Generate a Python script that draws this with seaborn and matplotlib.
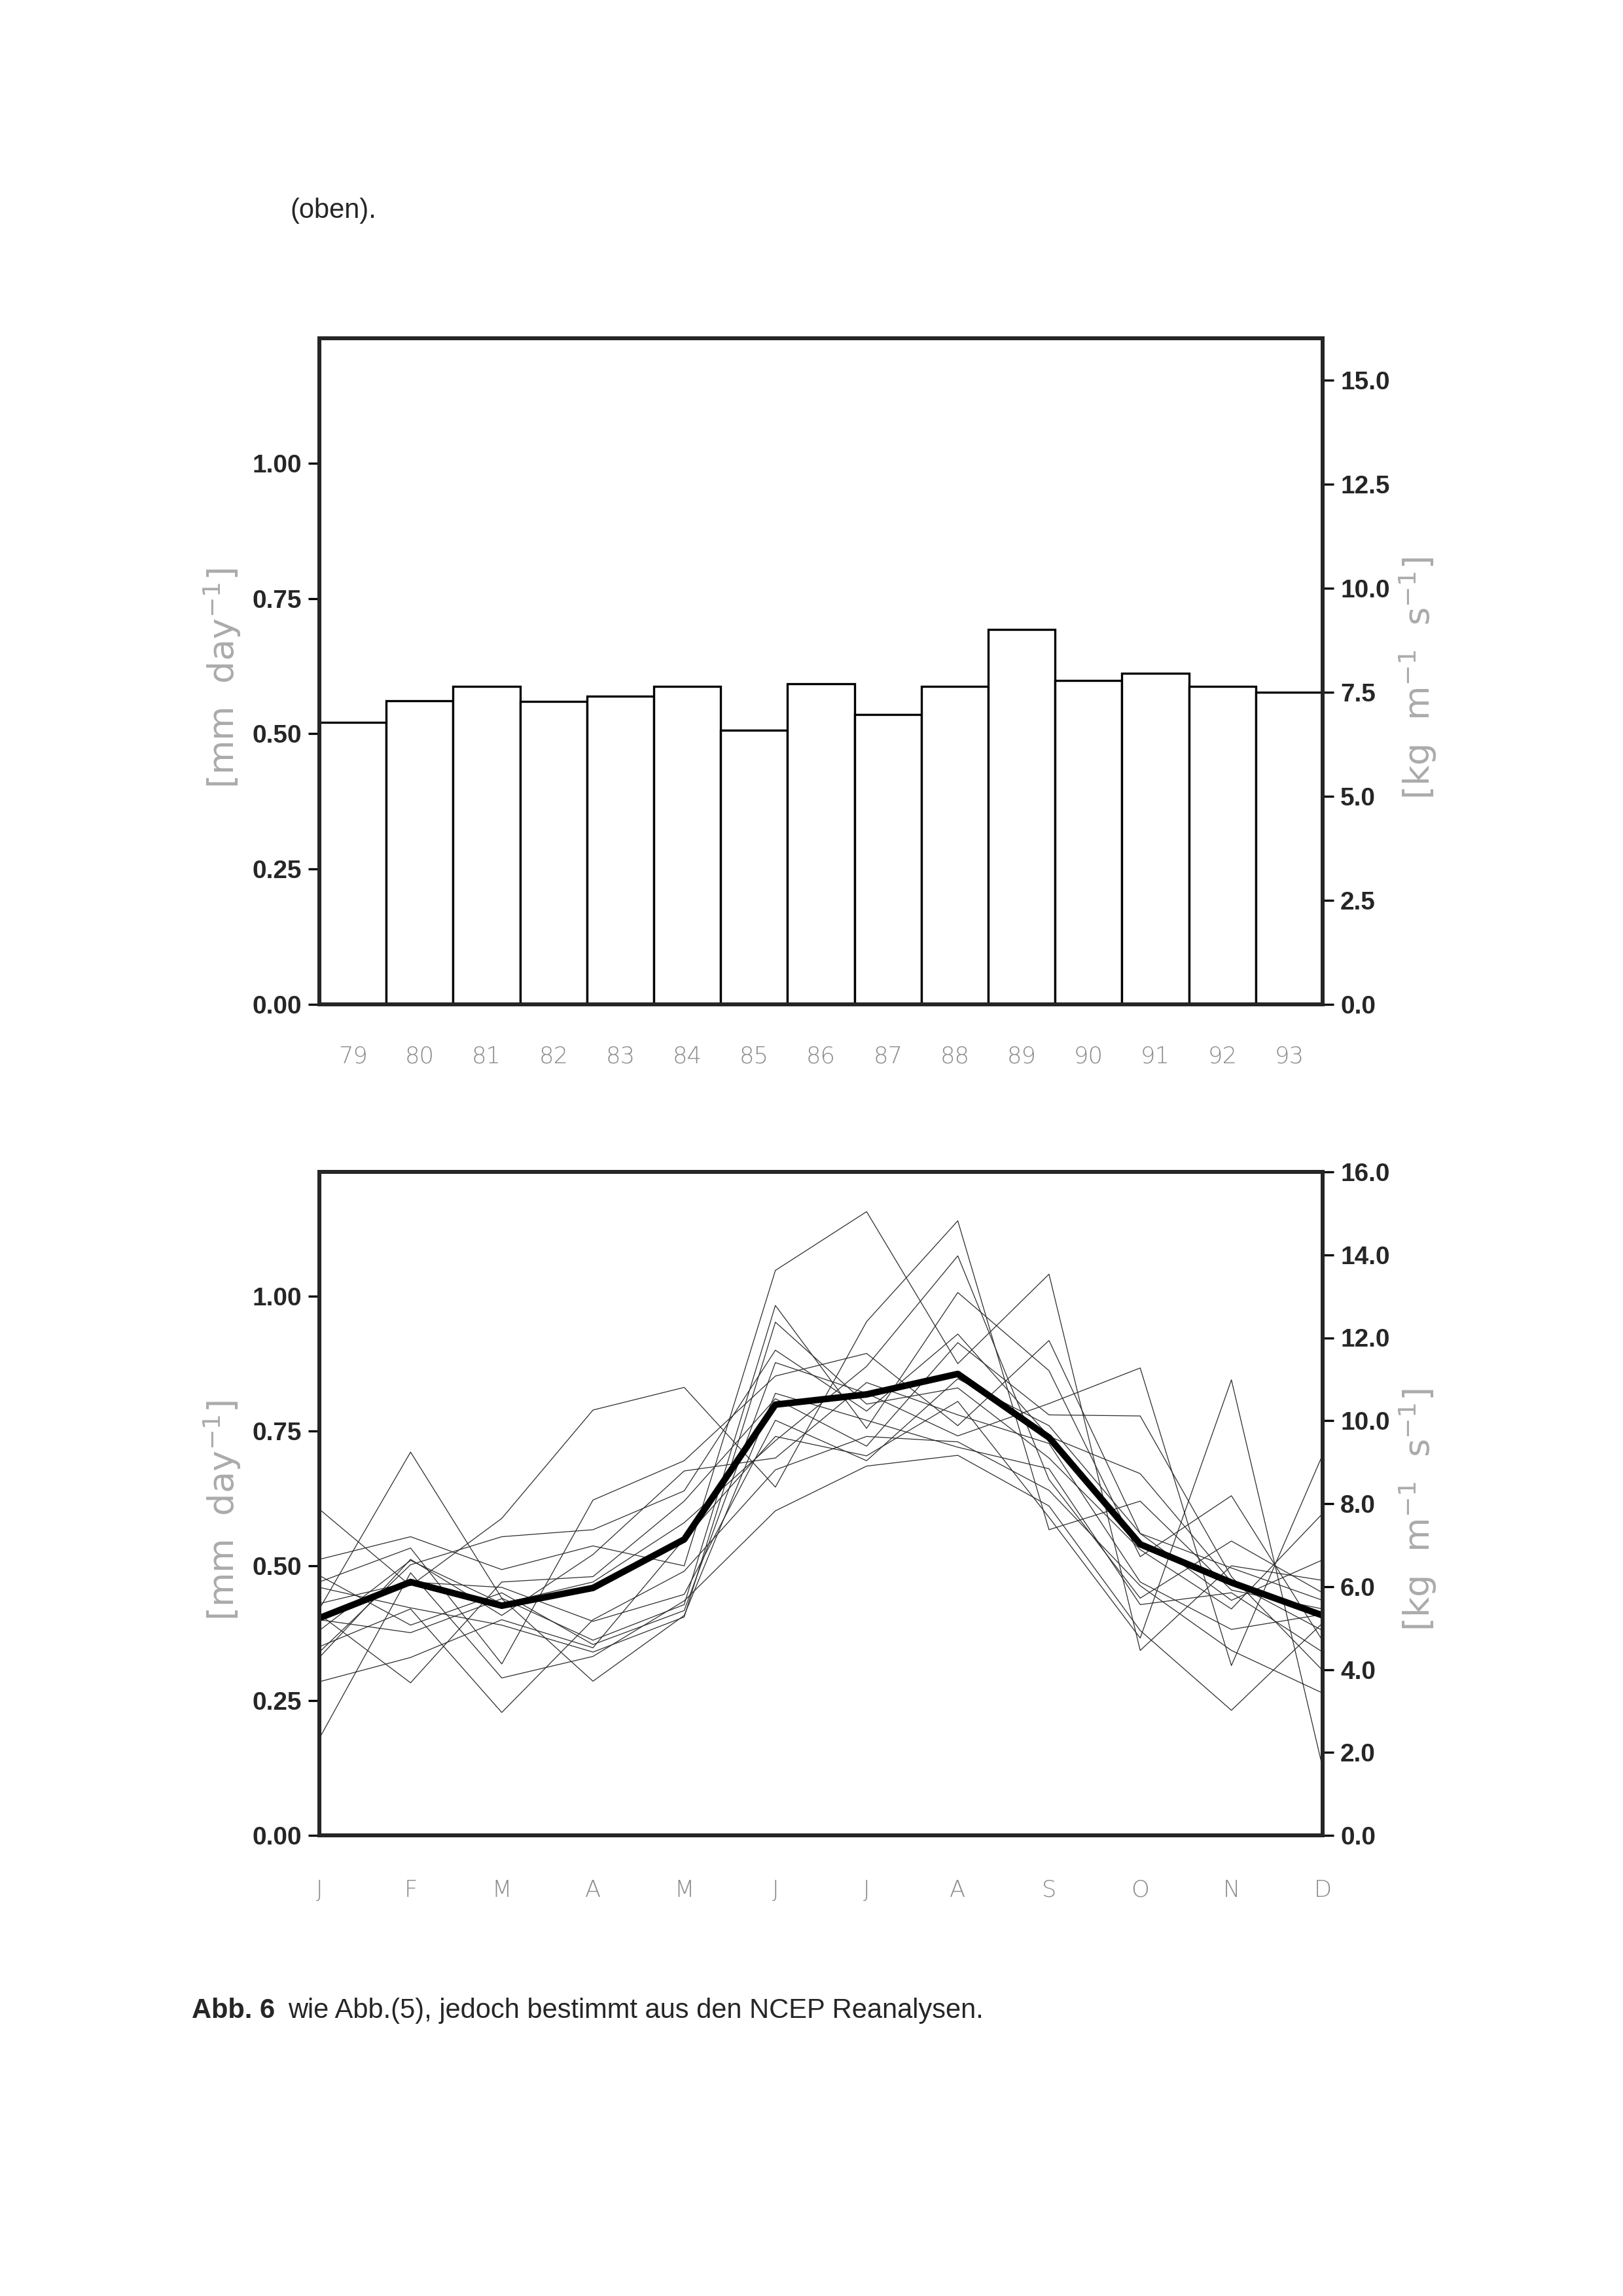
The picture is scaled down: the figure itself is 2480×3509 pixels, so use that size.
import matplotlib
matplotlib.use("Agg")
import matplotlib.pyplot as plt
import seaborn as sns
import pandas as pd
from matplotlib.ticker import FormatStrFormatter

# Jahresmittel (oben) in mm/day
years = ['79', '80', '81', '82', '83', '84', '85', '86', '87', '88', '89', '90', '91', '92', '93']
annual = [0.521, 0.561, 0.587, 0.560, 0.570, 0.587, 0.506, 0.592, 0.535, 0.587, 0.693, 0.598, 0.612, 0.587, 0.577]

# Jahresgang (unten)
months = ['J', 'F', 'M', 'A', 'M', 'J', 'J', 'A', 'S', 'O', 'N', 'D']
mean_cycle = [0.403, 0.470, 0.426, 0.459, 0.549, 0.799, 0.818, 0.856, 0.738, 0.540, 0.469, 0.408]

y79 = [0.350, 0.420, 0.228, 0.400, 0.490, 0.678, 0.740, 0.730, 0.640, 0.463, 0.343, 0.264]
y80 = [0.430, 0.470, 0.460, 0.397, 0.447, 0.770, 0.695, 0.847, 0.760, 0.560, 0.496, 0.436]
y81 = [0.340, 0.502, 0.554, 0.567, 0.639, 0.900, 0.787, 0.930, 0.740, 0.671, 0.470, 0.380]
y82 = [0.400, 0.376, 0.439, 0.286, 0.408, 0.820, 0.770, 0.720, 0.680, 0.428, 0.450, 0.340]
y83 = [0.330, 0.512, 0.408, 0.521, 0.676, 0.700, 0.840, 0.780, 0.727, 0.470, 0.382, 0.410]
y84 = [0.482, 0.390, 0.450, 0.354, 0.417, 0.877, 0.820, 0.741, 0.801, 0.867, 0.315, 0.706]
y85 = [0.180, 0.487, 0.292, 0.332, 0.435, 0.602, 0.685, 0.705, 0.611, 0.380, 0.232, 0.394]
y86 = [0.470, 0.533, 0.318, 0.622, 0.695, 0.852, 0.894, 0.760, 0.918, 0.560, 0.436, 0.511]
y87 = [0.285, 0.330, 0.400, 0.348, 0.550, 0.740, 0.704, 0.805, 0.590, 0.366, 0.845, 0.126]
y88 = [0.380, 0.510, 0.430, 0.470, 0.580, 0.732, 0.870, 1.075, 0.660, 0.440, 0.546, 0.450]
y89 = [0.512, 0.554, 0.493, 0.537, 0.500, 1.048, 1.157, 0.875, 1.041, 0.343, 0.500, 0.473]
y90 = [0.420, 0.711, 0.440, 0.362, 0.428, 0.983, 0.755, 1.007, 0.862, 0.517, 0.630, 0.361]
y91 = [0.605, 0.463, 0.588, 0.789, 0.831, 0.646, 0.953, 1.140, 0.567, 0.620, 0.455, 0.420]
y92 = [0.410, 0.283, 0.470, 0.480, 0.620, 0.810, 0.722, 0.914, 0.780, 0.778, 0.480, 0.306]
y93 = [0.460, 0.422, 0.390, 0.340, 0.405, 0.952, 0.800, 0.830, 0.700, 0.530, 0.420, 0.597]

year_series = [y79, y80, y81, y82, y83, y84, y85, y86, y87, y88, y89, y90, y91, y92, y93]

# Umrechnung mm/day -> kg m-1 s-1 (rechte Achse)
kg_max = 16.0
fac = 13.0

sns.set_style("white")
plt.rcParams['font.family'] = ['Liberation Sans', 'DejaVu Sans']
plt.rcParams['mathtext.fontset'] = 'dejavusans'

fig = plt.figure(figsize=(2480 / 300, 3509 / 300), dpi=300)
W, H = 2480.0, 3509.0
ax_top = fig.add_axes([488 / W, 1 - 1535 / H, 1533 / W, 1018 / H])
ax_bot = fig.add_axes([488 / W, 1 - 2805 / H, 1533 / W, 1014 / H])

label_gray = '#ababab'
tick_gray = '#8c8c8c'

# --- oben: Balken
df_bar = pd.DataFrame({'year': years, 'value': annual})
sns.barplot(data=df_bar, x='year', y='value', color='white', edgecolor='black',
            linewidth=0.8, width=1.0, saturation=1, ax=ax_top)
ax_top.set_xlim(-0.5, len(years) - 0.5)
ax_top.tick_params(axis='x', length=0, pad=15, labelsize=8.5, labelcolor=tick_gray)
for t in ax_top.get_xticklabels():
    t.set_family('DejaVu Sans')
    t.set_fontweight('light')
ax_top.set_xlabel('')

# --- unten: Jahresgaenge
rows = []
for yr, vals in zip(years, year_series):
    for i, v in enumerate(vals):
        rows.append({'year': yr, 'm': i, 'value': v})
df_lines = pd.DataFrame(rows)
sns.lineplot(data=df_lines, x='m', y='value', units='year', estimator=None,
             color='#2c2c2c', linewidth=0.3, legend=False, ax=ax_bot)
sns.lineplot(x=list(range(12)), y=mean_cycle, color='black', linewidth=2.4, ax=ax_bot)
ax_bot.set_xlim(0, 11)
ax_bot.set_xticks(range(12))
ax_bot.set_xticklabels(months)
ax_bot.tick_params(axis='x', direction='out', length=7, width=0.5, color=tick_gray,
                   pad=9, labelsize=8.5, labelcolor=tick_gray)
for t in ax_bot.get_xticklabels():
    t.set_family('DejaVu Sans')
    t.set_fontweight('light')
ax_bot.set_xlabel('')

right_ticks = {ax_top: [0, 2.5, 5, 7.5, 10, 12.5, 15], ax_bot: [0, 2, 4, 6, 8, 10, 12, 14, 16]}

for ax in (ax_top, ax_bot):
    ax.set_ylim(0, kg_max / fac)
    ax.set_yticks([0, 0.25, 0.5, 0.75, 1.0])
    ax.yaxis.set_major_formatter(FormatStrFormatter('%.2f'))
    ax.tick_params(axis='y', direction='out', length=4, width=0.8, color='black',
                   pad=2.5, labelsize=9.3)
    for t in ax.get_yticklabels():
        t.set_fontweight('bold')
    for s in ax.spines.values():
        s.set_linewidth(1.4)
        s.set_color('black')
        s.set_visible(True)
    ax.set_ylabel(r'[mm  day$^{-1}$]', fontsize=13, color=label_gray,
                  family='DejaVu Sans')
    ax.yaxis.label.set_va('center')
    ax.yaxis.set_label_coords(-0.0965, 0.49)

    ax2 = ax.twinx()
    ax2.set_ylim(0, kg_max)
    ax2.set_yticks(right_ticks[ax])
    ax2.yaxis.set_major_formatter(FormatStrFormatter('%.1f'))
    ax2.tick_params(axis='y', direction='out', length=4, width=0.8, color='black',
                    pad=2.5, labelsize=9.3)
    for t in ax2.get_yticklabels():
        t.set_fontweight('bold')
    for s in ax2.spines.values():
        s.set_linewidth(1.4)
    ax2.set_ylabel(r'[kg  m$^{-1}$  s$^{-1}$]', fontsize=13, color=label_gray,
                   family='DejaVu Sans', rotation=90)
    ax2.yaxis.label.set_va('center')
    ax2.yaxis.set_label_coords(1.0952, 0.49)
    ax2.grid(False)
    ax.grid(False)

# --- Texte
fig.text(443 / W, 1 - 322 / H, '(oben).', fontsize=10, va='center', ha='left')

t1 = fig.text(293 / W, 1 - 3073 / H, 'Abb. 6', fontsize=10, fontweight='bold',
              va='center', ha='left')
fig.canvas.draw()
bb = t1.get_window_extent()
x_next = (bb.x1 + 20) / fig.bbox.width
fig.text(x_next, 1 - 3073 / H, 'wie Abb.(5), jedoch bestimmt aus den NCEP Reanalysen.',
         fontsize=10, va='center', ha='left')

fig.savefig('out.png', dpi=300, facecolor='white')
